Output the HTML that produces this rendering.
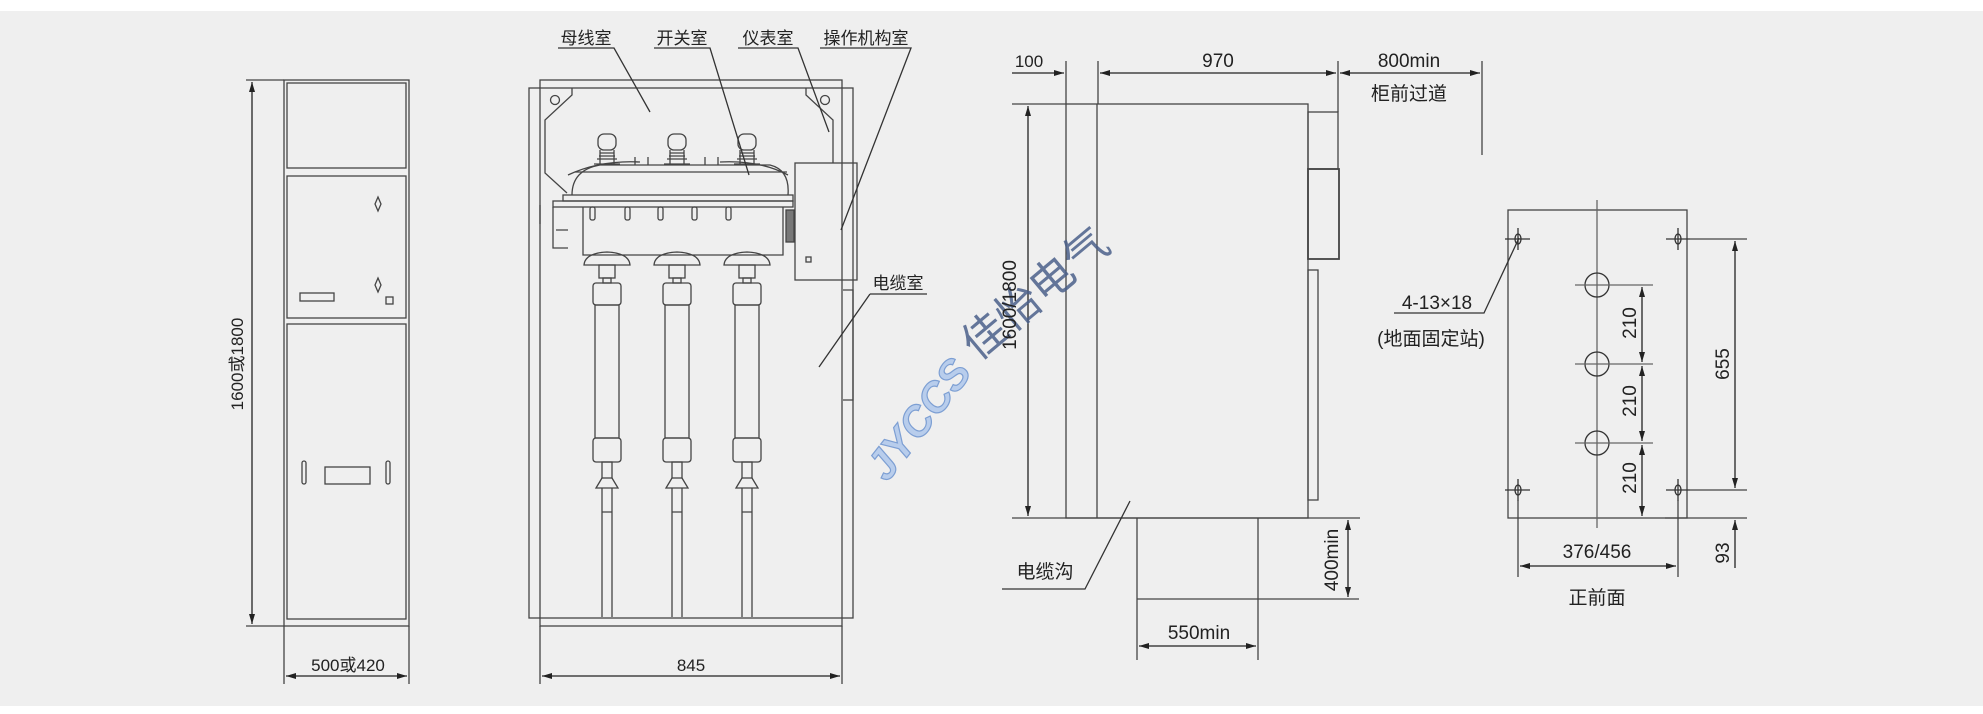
<!DOCTYPE html>
<html><head><meta charset="utf-8"><style>
html,body{margin:0;padding:0;background:#fff;}
svg{display:block;}
</style></head><body>
<svg width="1983" height="714" viewBox="0 0 1983 714" xmlns="http://www.w3.org/2000/svg">
<defs>
<marker id="a" viewBox="0 0 10 6" refX="10" refY="3" markerWidth="10" markerHeight="6" orient="auto-start-reverse" markerUnits="userSpaceOnUse"><path d="M0,0 L10,3 L0,6 z" fill="#222"/></marker>
</defs>
<rect x="0" y="11" width="1983" height="695" fill="#efefef"/>
<g fill="none" stroke="#444" stroke-width="1.3">
<rect x="284" y="80" width="125" height="546"/>
<rect x="287" y="83" width="119" height="85"/>
<rect x="287" y="176" width="119" height="142"/>
<rect x="287" y="324" width="119" height="295"/>
<path d="M378,197 l3,7 l-3,7 l-3,-7z M378,278 l3,7 l-3,7 l-3,-7z"/>
<rect x="300" y="293" width="34" height="8"/>
<rect x="386" y="297" width="7" height="7"/>
<rect x="302" y="461" width="4" height="23" rx="2"/>
<rect x="386" y="461" width="4" height="23" rx="2"/>
<rect x="325" y="467" width="45" height="17"/>
<path d="M246,80 H284 M246,626 H284 M284,626 V684 M409,626 V684"/>
<path d="M252,82 V624" marker-start="url(#a)" marker-end="url(#a)" stroke="#222"/>
<path d="M286,676 H407" marker-start="url(#a)" marker-end="url(#a)" stroke="#222"/>
<rect x="540" y="80" width="302" height="546"/>
<rect x="529" y="88" width="324" height="530"/>
<path d="M843,290 H853 V400 H843"/>
<path d="M572,88 V95 L545,120 V173 L567,193"/>
<path d="M806,88 V95 L833,120 V163"/>
<circle cx="555" cy="100" r="4.5"/><circle cx="825" cy="100" r="4.5"/>
<path d="M572,195 Q572,170 600,165 H770 Q790,170 788,195"/>
<path d="M568,175 Q600,160 640,162 M788,175 Q760,160 720,162"/>
<path d="M575,172 H787"/>
<rect x="563" y="195" width="230" height="6"/>
<rect x="553" y="201" width="240" height="6"/>
<path d="M583,207 V255 H783 V207"/>
<path d="M540,205 V224 M553,207 V248 H568 M556,230 H568"/>
<rect x="590" y="207" width="5" height="13" rx="2"/><rect x="625" y="207" width="5" height="13" rx="2"/><rect x="658" y="207" width="5" height="13" rx="2"/><rect x="692" y="207" width="5" height="13" rx="2"/><rect x="726" y="207" width="5" height="13" rx="2"/>
<rect x="786" y="210" width="8" height="32" fill="#777"/>
<g id="bush">
<rect x="598" y="134" width="18" height="16" rx="6"/>
<path d="M600,153 H614 M599,156 H615 M597,159 H617 M594,164 H620 M600,150 V164 M614,150 V164"/>
</g>
<use href="#bush" x="70"/><use href="#bush" x="140"/>
<path d="M635,165 v-8 M648,165 v-8 M705,165 v-8 M718,165 v-8"/>
<rect x="795" y="163" width="62" height="117"/>
<rect x="806" y="257" width="5" height="5"/>
<g id="pole">
<path d="M584,265 Q585,253 607,252 Q629,253 630,265 Z"/>
<rect x="599" y="265" width="16" height="13"/>
<rect x="603" y="278" width="8" height="5"/>
<rect x="593" y="283" width="28" height="22" rx="3"/>
<rect x="595" y="305" width="24" height="133"/>
<rect x="593" y="438" width="28" height="24" rx="3"/>
<rect x="602" y="462" width="10" height="16"/>
<path d="M602,478 L596,488 H618 L612,478"/>
<path d="M602,488 V617 M612,488 V617 M602,512 H612"/>
</g>
<use href="#pole" x="70"/><use href="#pole" x="140"/>
<path d="M540,626 V684 M842,626 V684"/>
<path d="M542,676 H840" marker-start="url(#a)" marker-end="url(#a)" stroke="#222"/>
<path d="M558,48 H614 L650,112 M654,48 H710 L749,175 M738,48 H798 L829,132 M820,48 H911 L841,230 M870,294 H927 M870,294 L819,367" stroke="#333"/>
<rect x="1066" y="104" width="242" height="414"/>
<path d="M1097,104 V518"/>
<rect x="1308" y="112" width="30" height="57"/>
<rect x="1308" y="169" width="31" height="90" stroke-width="1.8"/>
<rect x="1308" y="270" width="10" height="230"/>
<path d="M1012,104 H1066 M1012,518 H1360 M1066,61 V104 M1098,61 V104 M1338,61 V112 M1482,61 V155"/>
<path d="M1028,106 V516" marker-start="url(#a)" marker-end="url(#a)" stroke="#222"/>
<path d="M1012,73 H1064" marker-end="url(#a)" stroke="#222"/>
<path d="M1100,73 H1336" marker-start="url(#a)" marker-end="url(#a)" stroke="#222"/>
<path d="M1340,73 H1480" marker-start="url(#a)" marker-end="url(#a)" stroke="#222"/>
<path d="M1137,518 V660 M1258,518 V660 M1137,599 H1359"/>
<path d="M1348,520 V597" marker-start="url(#a)" marker-end="url(#a)" stroke="#222"/>
<path d="M1139,646 H1256" marker-start="url(#a)" marker-end="url(#a)" stroke="#222"/>
<path d="M1002,589 H1085 L1130,501" stroke="#333"/>
<rect x="1508" y="210" width="179" height="308"/>
<path d="M1597,200 V528" stroke="#666"/>
<g stroke="#333">
<ellipse cx="1518" cy="239" rx="3" ry="5"/><ellipse cx="1678" cy="239" rx="3" ry="5"/>
<ellipse cx="1518" cy="490" rx="3" ry="5"/><ellipse cx="1678" cy="490" rx="3" ry="5"/>
<path d="M1505,239 H1530 M1518,228 V250 M1666,239 H1690 M1678,228 V250 M1505,490 H1530 M1518,479 V501 M1666,490 H1690 M1678,479 V501"/>
<circle cx="1597" cy="285" r="12"/><circle cx="1597" cy="364" r="12"/><circle cx="1597" cy="443" r="12"/>
</g>
<path d="M1575,285 H1653 M1575,364 H1653 M1575,443 H1653" stroke="#666"/>
<path d="M1690,239 H1747 M1690,490 H1747 M1665,518 H1747 M1518,500 V577 M1678,500 V577"/>
<path d="M1642,287 V362" marker-start="url(#a)" marker-end="url(#a)" stroke="#222"/>
<path d="M1642,366 V441" marker-start="url(#a)" marker-end="url(#a)" stroke="#222"/>
<path d="M1642,445 V516" marker-start="url(#a)" marker-end="url(#a)" stroke="#222"/>
<path d="M1735,241 V488" marker-start="url(#a)" marker-end="url(#a)" stroke="#222"/>
<path d="M1735,568 V520" marker-end="url(#a)" stroke="#222"/>
<path d="M1520,566 H1676" marker-start="url(#a)" marker-end="url(#a)" stroke="#222"/>
<path d="M1394,313 H1484 L1519,238" stroke="#333"/>
</g>
<g transform="translate(930,428) rotate(-52)">
<text x="0" y="0" text-anchor="middle" font-family="Liberation Sans, sans-serif" font-size="42" font-style="italic" font-weight="bold" style="fill:#b8cdec;stroke:#7d9fd3;stroke-width:1.2">JYCCS</text>
</g>
<g transform="translate(1045,305) rotate(-40)">
<text x="0" y="0" text-anchor="middle" font-family="Noto Sans CJK SC, sans-serif" font-size="44" style="fill:#4a5f8a;fill-opacity:0.85">佳怡电气</text>
</g>
<g font-family="Liberation Sans, Noto Sans CJK SC, sans-serif" font-size="17" style="fill:#222">
<text x="243" y="364" transform="rotate(-90 243 364)" text-anchor="middle">1600或1800</text>
<text x="348" y="671" text-anchor="middle">500或420</text>
<text x="691" y="671" text-anchor="middle">845</text>
<text x="586" y="44" text-anchor="middle">母线室</text>
<text x="682" y="44" text-anchor="middle">开关室</text>
<text x="768" y="44" text-anchor="middle">仪表室</text>
<text x="866" y="44" text-anchor="middle">操作机构室</text>
<text x="898" y="289" text-anchor="middle">电缆室</text>
<text x="1029" y="67" text-anchor="middle">100</text>
<text x="1218" y="67" text-anchor="middle" font-size="19">970</text>
<text x="1409" y="67" text-anchor="middle" font-size="19">800min</text>
<text x="1409" y="100" text-anchor="middle" font-size="19">柜前过道</text>
<text x="1016" y="305" transform="rotate(-90 1016 305)" text-anchor="middle" font-size="19">1600/1800</text>
<text x="1338" y="560" transform="rotate(-90 1338 560)" text-anchor="middle" font-size="19">400min</text>
<text x="1199" y="639" text-anchor="middle" font-size="19">550min</text>
<text x="1045" y="578" text-anchor="middle" font-size="19">电缆沟</text>
<text x="1437" y="309" text-anchor="middle" font-size="19">4-13×18</text>
<text x="1431" y="345" text-anchor="middle" font-size="19">(地面固定站)</text>
<text x="1636" y="323" transform="rotate(-90 1636 323)" text-anchor="middle" font-size="19">210</text>
<text x="1636" y="401" transform="rotate(-90 1636 401)" text-anchor="middle" font-size="19">210</text>
<text x="1636" y="478" transform="rotate(-90 1636 478)" text-anchor="middle" font-size="19">210</text>
<text x="1729" y="364" transform="rotate(-90 1729 364)" text-anchor="middle" font-size="19">655</text>
<text x="1729" y="553" transform="rotate(-90 1729 553)" text-anchor="middle" font-size="19">93</text>
<text x="1597" y="558" text-anchor="middle" font-size="19">376/456</text>
<text x="1597" y="604" text-anchor="middle" font-size="19">正前面</text>
</g>
</svg>
</body></html>
